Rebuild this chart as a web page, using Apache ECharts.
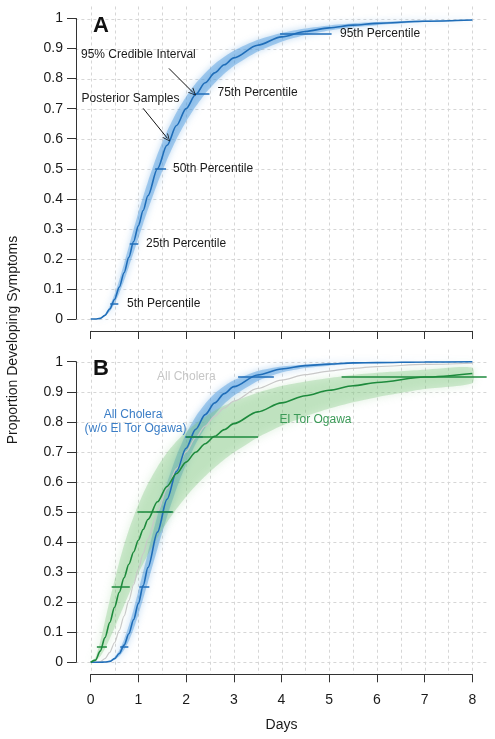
<!DOCTYPE html>
<html><head><meta charset="utf-8">
<script src="https://cdn.jsdelivr.net/npm/echarts@6/dist/echarts.min.js"></script>
<style>html,body{margin:0;padding:0;background:#fff}#c{width:495px;height:739px}</style>
</head><body><div id="c"></div>
<script>
// ---- data ----
const days = [0,0.1,0.2,0.3,0.4,0.5,0.6,0.7,0.8,0.9,1.0,1.1,1.2,1.4,1.6,1.8,2.0,2.2,2.4,2.6,2.8,3.0,3.5,4.0,4.5,5.0,5.5,6.0,7.0,8.0];

// Panel A and grey line in panel B: all cholera
const allMedian = [0,0,0.002,0.012,0.033,0.065,0.106,0.154,0.205,0.258,0.310,0.361,0.410,0.500,0.578,0.644,0.700,0.747,0.786,0.819,0.846,0.869,0.911,0.939,0.957,0.969,0.978,0.984,0.991,0.995];
const allLower  = [0,0,0.001,0.009,0.025,0.051,0.086,0.127,0.173,0.221,0.269,0.317,0.364,0.452,0.530,0.599,0.657,0.707,0.750,0.785,0.816,0.842,0.890,0.923,0.945,0.960,0.971,0.978,0.988,0.993];
const allUpper  = [0,0,0.003,0.016,0.043,0.082,0.130,0.184,0.241,0.298,0.354,0.407,0.457,0.548,0.624,0.688,0.740,0.784,0.819,0.849,0.873,0.893,0.929,0.952,0.967,0.977,0.984,0.988,0.994,0.996];

// Panel B: all cholera without El Tor Ogawa
const noOgawaMedian = [0,0,0,0.001,0.003,0.012,0.029,0.057,0.095,0.142,0.196,0.255,0.315,0.433,0.542,0.635,0.712,0.775,0.824,0.863,0.894,0.917,0.956,0.976,0.987,0.992,0.996,0.997,0.999,1.000];
const noOgawaLower  = [0,0,0,0,0.002,0.008,0.020,0.041,0.071,0.111,0.158,0.211,0.266,0.378,0.484,0.578,0.658,0.726,0.780,0.824,0.860,0.887,0.936,0.964,0.979,0.987,0.993,0.996,0.998,0.999];
const noOgawaUpper  = [0,0,0,0.001,0.005,0.017,0.040,0.076,0.122,0.176,0.237,0.301,0.364,0.488,0.596,0.687,0.760,0.817,0.860,0.894,0.919,0.938,0.969,0.984,0.991,0.995,0.998,0.999,1.000,1.000];

// Panel B: El Tor Ogawa
const ogawaMedian = [0,0.007,0.037,0.082,0.132,0.183,0.233,0.281,0.326,0.367,0.406,0.442,0.475,0.534,0.585,0.628,0.666,0.699,0.727,0.752,0.774,0.794,0.833,0.863,0.887,0.905,0.920,0.931,0.949,0.961];
const ogawaLower  = [0,0.003,0.019,0.045,0.078,0.114,0.152,0.189,0.226,0.261,0.296,0.328,0.359,0.415,0.466,0.511,0.551,0.587,0.619,0.648,0.675,0.698,0.748,0.787,0.818,0.844,0.865,0.882,0.909,0.928];
const ogawaUpper  = [0,0.016,0.069,0.137,0.207,0.273,0.334,0.390,0.440,0.484,0.525,0.561,0.594,0.650,0.697,0.735,0.767,0.794,0.817,0.837,0.854,0.868,0.897,0.919,0.934,0.946,0.956,0.963,0.973,0.980];

// Percentile markers (credible interval of each percentile, in days)
const pctLevels = [0.05,0.25,0.5,0.75,0.95];
const pctLabels = ['5th Percentile','25th Percentile','50th Percentile','75th Percentile','95th Percentile'];
const allPctLo = [0.41,0.82,1.35,2.14,3.97];
const allPctHi = [0.58,1.00,1.58,2.49,5.05];
const noOgawaPctLo = [0.62,1.02,1.38,1.98,3.09];
const noOgawaPctHi = [0.79,1.23,1.70,2.35,3.84];
const ogawaPctLo = [0.13,0.44,0.98,2.00,5.26];
const ogawaPctHi = [0.34,0.82,1.73,3.51,8.30];

// Axes ticks / grid
const gridX = [0,0.5,1,1.5,2,2.5,3,3.5,4,4.5,5,5.5,6,6.5,7,7.5,8];
const gridY = [0,0.1,0.2,0.3,0.4,0.5,0.6,0.7,0.8,0.9,1];

// Annotation arrows in panel A (data coordinates)
const arrowFrom = [[1.64,0.834],[1.10,0.701]];
const arrowTo   = [[2.15,0.753],[1.61,0.601]];

// ---- styling ----
const FONT = '"Liberation Sans", Arial, Helvetica, sans-serif';
const BLUE = '#1f6db8', BLUE_BAND = 'rgba(80,155,222,0.45)', BLUE_GLOW = 'rgba(80,155,222,0.8)';
const GREEN = '#1d8a3c', GREEN_BAND = 'rgba(120,195,120,0.32)', GREEN_GLOW = 'rgba(120,195,120,0.7)';
const GREY = '#c8c8c8';
const AXIS = '#333';

const pairs = (ys) => days.map((d, i) => [d, ys[i]]);

function band(xi, yi, lo, hi, fill, glow, blur) {
  return {
    type: 'custom', coordinateSystem: 'cartesian2d', xAxisIndex: xi, yAxisIndex: yi,
    data: [[0, 0]], silent: true, z: 2,
    renderItem: function (params, api) {
      const pts = [];
      for (let i = 0; i < days.length; i++) pts.push(api.coord([days[i], hi[i]]));
      for (let i = days.length - 1; i >= 0; i--) pts.push(api.coord([days[i], lo[i]]));
      return { type: 'polygon', shape: { points: pts, smooth: 0.2 },
        style: { fill: fill, shadowBlur: blur, shadowColor: glow } };
    }
  };
}
function curve(xi, yi, ys, color, width, z) {
  return { type: 'line', xAxisIndex: xi, yAxisIndex: yi, data: pairs(ys), showSymbol: false, symbol: 'none',
    smooth: 0.3, smoothMonotone: 'x', silent: true, z: z || 3, animation: false,
    lineStyle: { color: color, width: width } };
}
function pctBars(xi, yi, lo, hi, color) {
  return { type: 'line', xAxisIndex: xi, yAxisIndex: yi, data: [], z: 6, silent: true,
    markLine: { silent: true, animation: false, symbol: ['none', 'none'], label: { show: false },
      lineStyle: { color: color, width: 1.5, type: 'solid' },
      data: pctLevels.map((p, i) => [{ coord: [lo[i], p] }, { coord: [hi[i], p] }]) } };
}
// dashed background grid spanning the whole plot region (custom series so it stays beneath the curves)
function gridLines(xi, yi) {
  return {
    type: 'custom', coordinateSystem: 'cartesian2d', xAxisIndex: xi, yAxisIndex: yi,
    data: [[0, 0]], silent: true, z: 0,
    renderItem: function (params, api) {
      const r = params.coordSys;
      const st = { stroke: '#d6d6d6', lineWidth: 1, lineDash: [3, 3], fill: null };
      const children = [];
      gridX.forEach(v => {
        const x = Math.round(api.coord([v, 0])[0]) + 0.5;
        children.push({ type: 'line', shape: { x1: x, y1: r.y, x2: x, y2: r.y + r.height }, style: st });
      });
      gridY.forEach(v => {
        const y = Math.round(api.coord([0, v])[1]) + 0.5;
        children.push({ type: 'line', shape: { x1: r.x, y1: y, x2: r.x + r.width, y2: y }, style: st });
      });
      return { type: 'group', children: children };
    }
  };
}

const hiddenX = (g) => ({ gridIndex: g, type: 'value', min: -0.32, max: 8.32, show: false });
const hiddenY = (g) => ({ gridIndex: g, type: 'value', min: -0.04, max: 1.04, show: false });
const visX = (g, labels) => ({ gridIndex: g, type: 'value', min: 0, max: 8, interval: 1, offset: 12, position: 'bottom',
  axisLine: { show: true, onZero: false, lineStyle: { color: AXIS, width: 1 } },
  axisTick: { show: true, inside: false, length: 8, lineStyle: { color: AXIS, width: 1 } },
  axisLabel: { show: labels, color: '#1a1a1a', fontSize: 14, fontFamily: FONT, margin: 19 },
  splitLine: { show: false } });
const visY = (g) => ({ gridIndex: g, type: 'value', min: 0, max: 1, interval: 0.1, offset: 14.7, position: 'left',
  axisLine: { show: true, onZero: false, lineStyle: { color: AXIS, width: 1 } },
  axisTick: { show: true, inside: false, length: 9, lineStyle: { color: AXIS, width: 1 } },
  axisLabel: { color: '#1a1a1a', fontSize: 14, fontFamily: FONT, margin: 13 },
  splitLine: { show: false } });

const chevron = 'path://M0,0 L5,10 L4,10.6 L0,2.2 L-4,10.6 L-5,10 Z';

const txt = (x, y, text, opts) => Object.assign({ type: 'text', x: x, y: y, silent: true, z: 10,
  style: Object.assign({ text: text, fill: '#1a1a1a', font: '12px ' + FONT, align: 'left', verticalAlign: 'middle' }, opts || {}) });

const option = {
  backgroundColor: '#fff',
  animation: false,
  grid: [
    { left: 75.4, top: 6.5, width: 412.2, height: 324.5 },
    { left: 90.7, top: 18.5, width: 381.6, height: 300.5 },
    { left: 75.4, top: 349.7, width: 412.2, height: 324.6 },
    { left: 90.7, top: 361.7, width: 381.6, height: 300.6 }
  ],
  xAxis: [hiddenX(0), visX(1, false), hiddenX(2), visX(3, true)],
  yAxis: [hiddenY(0), visY(1), hiddenY(2), visY(3)],
  series: [
    gridLines(0, 0),
    gridLines(2, 2),
    // Panel A
    band(0, 0, allLower, allUpper, BLUE_BAND, BLUE_GLOW, 7),
    curve(0, 0, allMedian, BLUE, 1.6),
    pctBars(0, 0, allPctLo, allPctHi, BLUE),
    { type: 'line', xAxisIndex: 0, yAxisIndex: 0, data: [], z: 7, silent: true,
      markLine: { silent: true, animation: false, symbol: ['none', chevron], symbolSize: [7, 8], label: { show: false },
        lineStyle: { color: '#111', width: 1, type: 'solid' },
        data: arrowFrom.map((f, i) => [{ coord: f }, { coord: arrowTo[i] }]) } },
    // Panel B
    band(2, 2, noOgawaLower, noOgawaUpper, BLUE_BAND, BLUE_GLOW, 7),
    band(2, 2, ogawaLower, ogawaUpper, GREEN_BAND, GREEN_GLOW, 10),
    curve(2, 2, allMedian, GREY, 1.2, 3),
    curve(2, 2, noOgawaMedian, BLUE, 1.6, 4),
    curve(2, 2, ogawaMedian, GREEN, 1.6, 4),
    pctBars(2, 2, noOgawaPctLo, noOgawaPctHi, BLUE),
    pctBars(2, 2, ogawaPctLo, ogawaPctHi, GREEN)
  ],
  graphic: [
    txt(101, 26, 'A', { font: 'bold 22px ' + FONT, align: 'center', fill: '#111' }),
    txt(101, 369, 'B', { font: 'bold 22px ' + FONT, align: 'center', fill: '#111' }),
    txt(81, 55, '95% Credible Interval'),
    txt(81.5, 99, 'Posterior Samples'),
    txt(127, 304, pctLabels[0]),
    txt(146, 244, pctLabels[1]),
    txt(173, 169, pctLabels[2]),
    txt(217.5, 93, pctLabels[3]),
    txt(340, 33.5, pctLabels[4]),
    txt(157, 377, 'All Cholera', { fill: '#c6c6c6' }),
    txt(133, 415, 'All Cholera', { fill: '#3a7dc6', align: 'center' }),
    txt(135.5, 429, '(w/o El Tor Ogawa)', { fill: '#3a7dc6', align: 'center' }),
    txt(279.5, 420, 'El Tor Ogawa', { fill: '#3b9a57' }),
    txt(281.5, 725, 'Days', { font: '14px ' + FONT, align: 'center' }),
    { type: 'text', x: 13, y: 340, rotation: Math.PI / 2, silent: true,
      style: { text: 'Proportion Developing Symptoms', fill: '#1a1a1a', font: '14px ' + FONT, align: 'center', verticalAlign: 'middle' } }
  ]
};

const chart = echarts.init(document.getElementById('c'), null, { renderer: 'canvas' });
chart.setOption(option);
</script>
</body></html>
